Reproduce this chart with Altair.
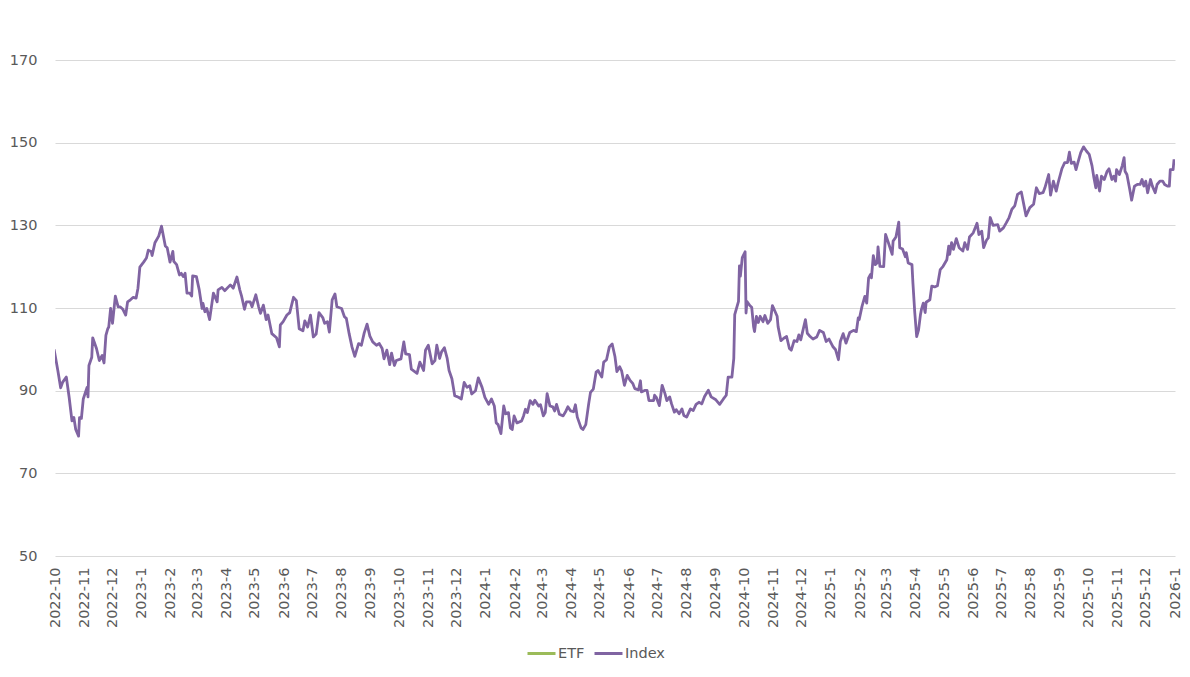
import altair as alt
import pandas as pd

dates = [
    "2022-09-30", "2022-10-04", "2022-10-07", "2022-10-09", "2022-10-13", "2022-10-16", "2022-10-19", "2022-10-21",
    "2022-10-23", "2022-10-26", "2022-10-27", "2022-10-29", "2022-10-31",
    "2022-11-04", "2022-11-05", "2022-11-06", "2022-11-09", "2022-11-10", "2022-11-14", "2022-11-17", "2022-11-20",
    "2022-11-22", "2022-11-24", "2022-11-26", "2022-11-27", "2022-11-29",
    "2022-12-01", "2022-12-04", "2022-12-07", "2022-12-09", "2022-12-12", "2022-12-15", "2022-12-17", "2022-12-20",
    "2022-12-23", "2022-12-26", "2022-12-28", "2022-12-30",
    "2023-01-03", "2023-01-06", "2023-01-08", "2023-01-11", "2023-01-12", "2023-01-15", "2023-01-19", "2023-01-22",
    "2023-01-26", "2023-01-28", "2023-01-31",
    "2023-02-03", "2023-02-04", "2023-02-07", "2023-02-10", "2023-02-12", "2023-02-14", "2023-02-16", "2023-02-18",
    "2023-02-21", "2023-02-23", "2023-02-24", "2023-02-28",
    "2023-03-03", "2023-03-06", "2023-03-07", "2023-03-09", "2023-03-11", "2023-03-14", "2023-03-18", "2023-03-22",
    "2023-03-23", "2023-03-27", "2023-03-30",
    "2023-04-05", "2023-04-08", "2023-04-12", "2023-04-15", "2023-04-17", "2023-04-20", "2023-04-22", "2023-04-26",
    "2023-04-28",
    "2023-05-02", "2023-05-05", "2023-05-07", "2023-05-10", "2023-05-13", "2023-05-15", "2023-05-19", "2023-05-24",
    "2023-05-27", "2023-05-28", "2023-05-31",
    "2023-06-04", "2023-06-07", "2023-06-11", "2023-06-14", "2023-06-17", "2023-06-21", "2023-06-23", "2023-06-26",
    "2023-06-29",
    "2023-07-02", "2023-07-05", "2023-07-08", "2023-07-12", "2023-07-14", "2023-07-17", "2023-07-19", "2023-07-22",
    "2023-07-25", "2023-07-27",
    "2023-08-01", "2023-08-04", "2023-08-06", "2023-08-09", "2023-08-12", "2023-08-15", "2023-08-19", "2023-08-22",
    "2023-08-25", "2023-08-28", "2023-08-31",
    "2023-09-03", "2023-09-07", "2023-09-10", "2023-09-13", "2023-09-15", "2023-09-18", "2023-09-21", "2023-09-23",
    "2023-09-26", "2023-09-28",
    "2023-10-03", "2023-10-06", "2023-10-08", "2023-10-12", "2023-10-14", "2023-10-20", "2023-10-23", "2023-10-27",
    "2023-10-29",
    "2023-11-01", "2023-11-05", "2023-11-08", "2023-11-10", "2023-11-13", "2023-11-15", "2023-11-18", "2023-11-21",
    "2023-11-23", "2023-11-26", "2023-11-29",
    "2023-12-03", "2023-12-06", "2023-12-09", "2023-12-12", "2023-12-15", "2023-12-17", "2023-12-21", "2023-12-24",
    "2023-12-28", "2023-12-31",
    "2024-01-04", "2024-01-07", "2024-01-10", "2024-01-12", "2024-01-14", "2024-01-17", "2024-01-20", "2024-01-22",
    "2024-01-25", "2024-01-27", "2024-01-29", "2024-01-31",
    "2024-02-03", "2024-02-08", "2024-02-10", "2024-02-12", "2024-02-14", "2024-02-17", "2024-02-20", "2024-02-22",
    "2024-02-26", "2024-02-28",
    "2024-03-02", "2024-03-04", "2024-03-06", "2024-03-09", "2024-03-12", "2024-03-14", "2024-03-16", "2024-03-19",
    "2024-03-23", "2024-03-26", "2024-03-28", "2024-03-31",
    "2024-04-03", "2024-04-05", "2024-04-07", "2024-04-11", "2024-04-13", "2024-04-16", "2024-04-19", "2024-04-21",
    "2024-04-24", "2024-04-27", "2024-04-29",
    "2024-05-03", "2024-05-05", "2024-05-08", "2024-05-11", "2024-05-14", "2024-05-17", "2024-05-19", "2024-05-22",
    "2024-05-24", "2024-05-27", "2024-05-30",
    "2024-06-02", "2024-06-05", "2024-06-07", "2024-06-11", "2024-06-13", "2024-06-14", "2024-06-18", "2024-06-20",
    "2024-06-22", "2024-06-27", "2024-06-28", "2024-06-30",
    "2024-07-03", "2024-07-06", "2024-07-09", "2024-07-11", "2024-07-14", "2024-07-16", "2024-07-19", "2024-07-21",
    "2024-07-24", "2024-07-27", "2024-07-29",
    "2024-08-01", "2024-08-05", "2024-08-08", "2024-08-11", "2024-08-14", "2024-08-17", "2024-08-20", "2024-08-24",
    "2024-08-27",
    "2024-09-01", "2024-09-05", "2024-09-09", "2024-09-12", "2024-09-14", "2024-09-18", "2024-09-20", "2024-09-21",
    "2024-09-25", "2024-09-26", "2024-09-27", "2024-09-29",
    "2024-10-02", "2024-10-03", "2024-10-04", "2024-10-07", "2024-10-09", "2024-10-11", "2024-10-12", "2024-10-14",
    "2024-10-16", "2024-10-18", "2024-10-21", "2024-10-23", "2024-10-26", "2024-10-29", "2024-10-31",
    "2024-11-05", "2024-11-06", "2024-11-09", "2024-11-12", "2024-11-15", "2024-11-18", "2024-11-20", "2024-11-23",
    "2024-11-26", "2024-11-28", "2024-11-30",
    "2024-12-05", "2024-12-07", "2024-12-10", "2024-12-13", "2024-12-17", "2024-12-20", "2024-12-24", "2024-12-27",
    "2024-12-30",
    "2025-01-03", "2025-01-06", "2025-01-09", "2025-01-11", "2025-01-14", "2025-01-17", "2025-01-21", "2025-01-25",
    "2025-01-28", "2025-01-30", "2025-01-31",
    "2025-02-03", "2025-02-06", "2025-02-08", "2025-02-10", "2025-02-12", "2025-02-13", "2025-02-15", "2025-02-17",
    "2025-02-19", "2025-02-20", "2025-02-22", "2025-02-26", "2025-02-28",
    "2025-03-03", "2025-03-07", "2025-03-08", "2025-03-11", "2025-03-14", "2025-03-15", "2025-03-18", "2025-03-21",
    "2025-03-22", "2025-03-24", "2025-03-28", "2025-03-29", "2025-03-31",
    "2025-04-02", "2025-04-04", "2025-04-06", "2025-04-07", "2025-04-09", "2025-04-11", "2025-04-12", "2025-04-16",
    "2025-04-18", "2025-04-21", "2025-04-24", "2025-04-27", "2025-04-30",
    "2025-05-04", "2025-05-06", "2025-05-07", "2025-05-09", "2025-05-11", "2025-05-14", "2025-05-17", "2025-05-21",
    "2025-05-23", "2025-05-26", "2025-05-28",
    "2025-06-01", "2025-06-05", "2025-06-07", "2025-06-10", "2025-06-12", "2025-06-15", "2025-06-17", "2025-06-19",
    "2025-06-22", "2025-06-27", "2025-06-29",
    "2025-07-03", "2025-07-06", "2025-07-09", "2025-07-12", "2025-07-15", "2025-07-18", "2025-07-22", "2025-07-27",
    "2025-07-31",
    "2025-08-04", "2025-08-07", "2025-08-10", "2025-08-14", "2025-08-16", "2025-08-20", "2025-08-22", "2025-08-25",
    "2025-08-28", "2025-08-30",
    "2025-09-03", "2025-09-06", "2025-09-09", "2025-09-11", "2025-09-13", "2025-09-16", "2025-09-18", "2025-09-20",
    "2025-09-23", "2025-09-26", "2025-09-29",
    "2025-10-02", "2025-10-05", "2025-10-07", "2025-10-09", "2025-10-10", "2025-10-13", "2025-10-15", "2025-10-18",
    "2025-10-21", "2025-10-23", "2025-10-26", "2025-10-28", "2025-10-30", "2025-10-31",
    "2025-11-03", "2025-11-06", "2025-11-08", "2025-11-09", "2025-11-11", "2025-11-14", "2025-11-16", "2025-11-19",
    "2025-11-22", "2025-11-25", "2025-11-27", "2025-11-29",
    "2025-12-01", "2025-12-03", "2025-12-06", "2025-12-08", "2025-12-11", "2025-12-13", "2025-12-16", "2025-12-19",
    "2025-12-21", "2025-12-24", "2025-12-26", "2025-12-27", "2025-12-30", "2025-12-31",
]

index_values = [
    100, 94.9, 90.7, 92, 93.3, 88.4, 82.7, 83.5, 80.6, 79, 83.5, 83.3, 88,
    90.8, 88.5, 96.1, 98.1, 102.8, 100.2, 97.3, 98.5, 96.7, 103.4, 105, 105.4, 109.9,
    106.3, 112.9, 110.3, 110.3, 109.7, 108.3, 111.5, 112, 112.6, 112.4, 114.8, 119.9,
    121.1, 122.1, 124, 123.7, 122.7, 125.8, 127.4, 129.8, 125, 124.6, 121.1,
    123.7, 121.3, 120.5, 118, 118.4, 117.6, 118.4, 113.6, 113.6, 112.9, 117.8, 117.6,
    114.4, 109.9, 111.1, 109.1, 109.9, 107.2, 113.6, 111.5, 114.4, 115, 114.2,
    115.6, 114.8, 117.5, 114.4, 112.8, 109.7, 111.5, 111.5, 110.3,
    113.2, 110.3, 108.7, 110.7, 107.2, 108.3, 103.8, 102.8, 100.6, 105.9, 106.7,
    108.3, 108.9, 112.6, 111.8, 105, 104.5, 106.9, 105.4, 108.3,
    103, 103.7, 108.9, 107.7, 106.3, 106.7, 104.2, 112, 113.4, 110.3,
    109.9, 107.9, 107.5, 103.8, 100.6, 98.3, 101.4, 101, 104, 106.1, 103.2,
    101.8, 101, 101.4, 100.2, 97.7, 99.8, 96.3, 99.1, 96.1, 97.3,
    97.7, 101.8, 98.9, 98.7, 95.2, 94.2, 96.9, 94.9, 99.8,
    101, 96.5, 97.3, 101, 97.8, 99.4, 100.4, 97.8, 94.9, 92.9, 88.8,
    88.4, 88, 92, 90.8, 91.2, 89.2, 90, 93.1, 90.8, 88.4,
    86.7, 88, 86.3, 82.2, 81.8, 79.6, 86.3, 84.4, 84.7, 81, 80.6, 83.9,
    82.2, 82.7, 83.9, 85.5, 84.7, 87.6, 86.7, 87.7, 86.3, 86.6,
    83.9, 84.7, 89.3, 86.3, 86.1, 85.1, 86.7, 84.3, 83.9, 85.1, 86.1, 85.1,
    84.9, 86.6, 83.6, 81, 80.6, 81.8, 86.7, 89.6, 90.4, 94.5, 94.9,
    93.3, 96.9, 97.5, 100.6, 101.3, 98.2, 94.6, 95.8, 94.8, 91.3, 93.7,
    92.5, 91.7, 90.5, 90.2, 92.4, 89.7, 90.1, 90.1, 87.6, 87.6, 88.9, 88.3,
    86.4, 91.3, 89.3, 87.6, 88.5, 86.8, 84.8, 85.4, 84.4, 85.6, 84,
    83.6, 85.6, 85.2, 86.7, 87.2, 86.8, 88.6, 90.1, 88.5,
    87.8, 86.7, 88, 88.9, 93.3, 93.3, 97.8, 108.4, 111.6, 120.2, 117.7, 122.2,
    123.6, 108.8, 111.6, 110.6, 110.2, 105.5, 104.3, 108, 106.5, 108, 106.7, 108.2, 106.3, 107.2, 110.6,
    108, 105.5, 102.1, 102.7, 103.1, 100.2, 99.8, 102.1, 101.9, 103.5, 102.3,
    107.2, 103.9, 103.1, 102.5, 103, 104.6, 104.1, 101.9, 102.5,
    100.7, 99.9, 97.5, 101.9, 103.8, 101.5, 104.1, 104.6, 104.3, 107.6, 107.2,
    110.4, 112.8, 111.2, 117.3, 118.1, 117.3, 122.7, 120.5, 120.9, 124.8, 120.1, 120, 127.8,
    125.8, 123, 126.2, 127.2, 130.8, 124.6, 124.3, 122.4, 123.4, 120.9, 120.5, 116.1, 108.8,
    103.1, 104.7, 108.4, 109.6, 111.2, 108.9, 111.4, 112, 115.3, 115.1, 115.4, 119.3, 120.1,
    121.7, 125, 123, 125.8, 124.2, 126.8, 124.6, 123.8, 125.8, 124.2, 127.2,
    128.2, 130.5, 127.8, 128.6, 124.6, 126.4, 127, 131.9, 130, 130.2, 128.6,
    129.4, 130.6, 131.9, 133.9, 134.7, 137.5, 138.1, 132.3, 134.3,
    135.1, 139.1, 137.7, 137.9, 139.1, 142.3, 137.3, 140.7, 138.3, 140.3,
    143.7, 145.2, 145.2, 147.7, 145, 145.3, 143.5, 145.2, 147.6, 149, 148,
    147.2, 144.4, 141.5, 139.1, 142.1, 138.3, 141.9, 141.1, 143.1, 143.7, 141.1, 141.9, 140.7, 143.5,
    142.3, 144.4, 146.4, 143.1, 142.3, 138.7, 136.1, 139.5, 139.9, 139.9, 141.1, 139.5,
    140.7, 137.9, 141.1, 139.5, 137.9, 139.9, 140.7, 140.7, 139.9, 139.5, 139.5, 143.5, 143.5, 146,
]

series_names = ["ETF", "Index"]
series_colors = ["#9BBB59", "#8064A2"]
y_ticks = [50, 70, 90, 110, 130, 150, 170]

df = pd.DataFrame({"date": dates, "value": index_values, "series": "Index"})

FONT = "DejaVu Sans"
TXT = "#595959"

chart = (
    alt.Chart(df)
    .mark_line(strokeWidth=2.8, strokeJoin="round", clip=True)
    .encode(
        x=alt.X(
            "date:T",
            scale=alt.Scale(
                type="utc",
                domain=[
                    alt.DateTime(year=2022, month=10, date=1, utc=True),
                    alt.DateTime(year=2026, month=1, date=1, utc=True),
                ],
                nice=False,
            ),
            axis=alt.Axis(
                title=None,
                format="%Y-%-m",
                labelAngle=-90,
                tickCount={"interval": "month", "step": 1},
                grid=False,
                domain=False,
                ticks=False,
                tickSize=0,
                labelPadding=11,
                labelFont=FONT,
                labelFontSize=14.5,
                labelColor=TXT,
                labelOverlap=False,
                labelFlush=False,
            ),
        ),
        y=alt.Y(
            "value:Q",
            scale=alt.Scale(domain=[50, 182.6], nice=False, zero=False),
            axis=alt.Axis(
                title=None,
                values=y_ticks,
                grid=True,
                gridColor="#D9D9D9",
                gridWidth=1,
                domain=False,
                ticks=False,
                tickSize=0,
                labelPadding=18,
                labelFont=FONT,
                labelFontSize=14.5,
                labelColor=TXT,
            ),
        ),
        color=alt.Color(
            "series:N",
            scale=alt.Scale(domain=series_names, range=series_colors),
            legend=alt.Legend(
                title=None,
                orient="none",
                legendX=471,
                legendY=630,
                direction="horizontal",
                symbolType="stroke",
                symbolSize=784,
                symbolStrokeWidth=3,
                labelFont=FONT,
                labelFontSize=14.5,
                labelColor=TXT,
                labelOffset=1,
                columnPadding=3,
            ),
        ),
    )
    .properties(
        width=1120,
        height=548,
        padding={"left": 47, "top": 0, "right": 7, "bottom": 110},
        autosize=alt.AutoSizeParams(type="none"),
        background="white",
    )
    .configure_view(stroke=None)
)

chart.save("out.html", embed_options={"renderer": "svg", "actions": False})
